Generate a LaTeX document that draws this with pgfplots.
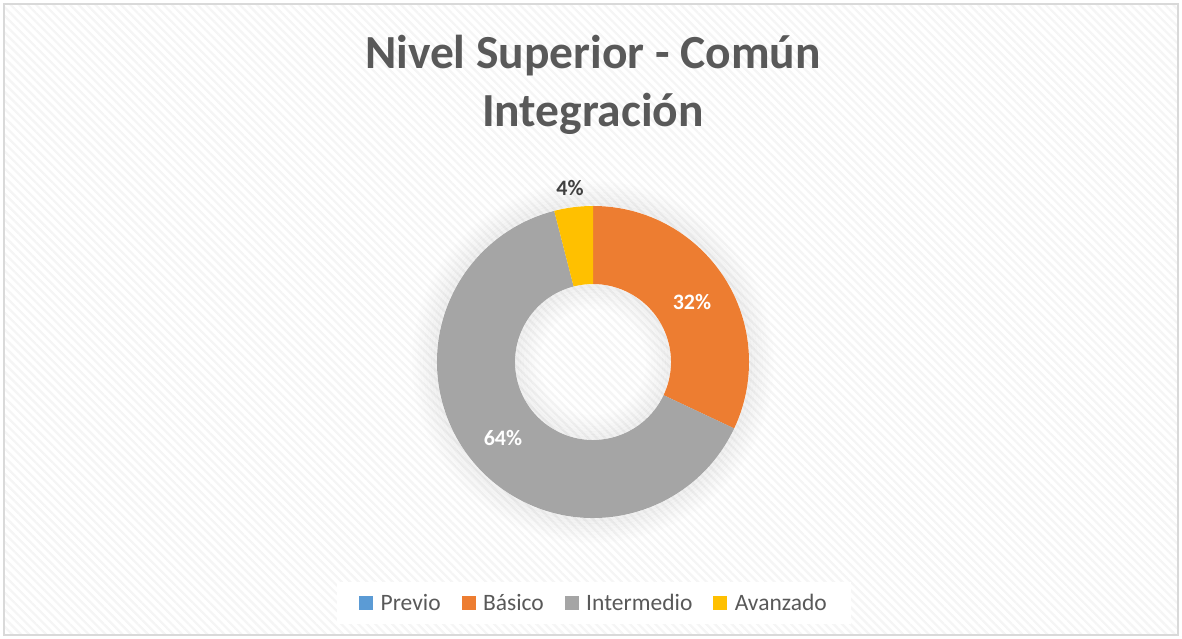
\documentclass[border=0pt]{standalone}
\usepackage{pgfplots}
\usepackage{pgfplotstable}
\pgfplotsset{compat=1.18}
\usepackage{fontspec}
\setmainfont{Carlito}
\usetikzlibrary{patterns.meta}
\definecolor{previo}{HTML}{5B9BD5}
\definecolor{basico}{HTML}{ED7D31}
\definecolor{intermedio}{HTML}{A5A5A5}
\definecolor{avanzado}{HTML}{FFC000}
\definecolor{txtgray}{HTML}{595959}
\definecolor{darklabel}{HTML}{404040}
\definecolor{framegray}{HTML}{D9D9D9}

\pgfplotstableread{
name value
Previo 0
Basico 32
Intermedio 64
Avanzado 4
}\datatable

\begin{document}
\begin{tikzpicture}
% angles: start at 12 o'clock, clockwise
\pgfplotstablegetelem{1}{value}\of\datatable \let\vB\pgfplotsretval
\pgfplotstablegetelem{2}{value}\of\datatable \let\vI\pgfplotsretval
\pgfplotstablegetelem{3}{value}\of\datatable \let\vA\pgfplotsretval
\pgfmathsetmacro\aS{90}
\pgfmathsetmacro\aB{\aS-3.6*\vB}
\pgfmathsetmacro\aI{\aB-3.6*\vI}
\pgfmathsetmacro\aA{\aI-3.6*\vA}
\def\cx{593}\def\cy{277}\def\ro{156}\def\ri{78}
\begin{axis}[
  width=1182pt, height=639pt, scale only axis,
  xmin=0, xmax=1182, ymin=0, ymax=639,
  hide axis, clip=false,
  legend style={at={(axis cs:594,36)}, anchor=center, fill=white, draw=none,
    font=\fontsize{23.5}{24}\selectfont, text=txtgray, inner xsep=22pt, inner ysep=10pt,
    /tikz/every odd column/.append style={column sep=6pt},
    /tikz/every even column/.append style={column sep=19pt}},
  legend columns=-1,
  legend image code/.code={\fill[#1] (0pt,-6.5pt) rectangle (13pt,6.5pt);},
]
% background
\fill[white] (axis cs:0,0) rectangle (axis cs:1182,639);
\fill[pattern={Lines[angle=-45,distance=6pt,line width=2.2pt]}, pattern color=black!4]
  (axis cs:4,4) rectangle (axis cs:1178,635);
\draw[framegray, line width=2pt] (axis cs:4,4) rectangle (axis cs:1178,635);
% soft shadow
\pgfplotsinvokeforeach{1,...,9}{
  \draw[black, opacity/.evaluated={0.06*(1-#1/10)}, line width=2.8pt]
    (axis cs:\cx,\cy) circle[radius={(\ro+2.7*#1-1)*1pt}];
  \draw[black, opacity/.evaluated={0.06*(1-#1/10)}, line width=2.8pt]
    (axis cs:\cx,\cy) circle[radius={(\ri-2.7*#1+1)*1pt}];
}
% sectors
\fill[basico] (axis cs:{\cx+\ro*cos(\aS)},{\cy+\ro*sin(\aS)}) arc[start angle=\aS, end angle=\aB, radius=\ro*1pt]
  -- (axis cs:{\cx+\ri*cos(\aB)},{\cy+\ri*sin(\aB)}) arc[start angle=\aB, end angle=\aS, radius=\ri*1pt] -- cycle;
\fill[intermedio] (axis cs:{\cx+\ro*cos(\aB)},{\cy+\ro*sin(\aB)}) arc[start angle=\aB, end angle=\aI, radius=\ro*1pt]
  -- (axis cs:{\cx+\ri*cos(\aI)},{\cy+\ri*sin(\aI)}) arc[start angle=\aI, end angle=\aB, radius=\ri*1pt] -- cycle;
\fill[avanzado] (axis cs:{\cx+\ro*cos(\aI)},{\cy+\ro*sin(\aI)}) arc[start angle=\aI, end angle=\aA, radius=\ro*1pt]
  -- (axis cs:{\cx+\ri*cos(\aA)},{\cy+\ri*sin(\aA)}) arc[start angle=\aA, end angle=\aI, radius=\ri*1pt] -- cycle;
% legend
\addlegendimage{previo}\addlegendentry{Previo}
\addlegendimage{basico}\addlegendentry{Básico}
\addlegendimage{intermedio}\addlegendentry{Intermedio}
\addlegendimage{avanzado}\addlegendentry{Avanzado}
% data labels
\node[white, font=\fontsize{22}{22}\selectfont\bfseries] at (axis cs:692,337) {32\%};
\node[white, font=\fontsize{22}{22}\selectfont\bfseries] at (axis cs:503,201) {64\%};
\node[darklabel, font=\fontsize{22}{22}\selectfont\bfseries] at (axis cs:570,451) {4\%};
% title
\node[anchor=base, txtgray, font=\fontsize{47.5}{58}\selectfont\bfseries] at (axis cs:593,570) {Nivel Superior - Común};
\node[anchor=base, txtgray, font=\fontsize{47.5}{58}\selectfont\bfseries] at (axis cs:593,512) {Integración};
\end{axis}
\end{tikzpicture}
\end{document}
